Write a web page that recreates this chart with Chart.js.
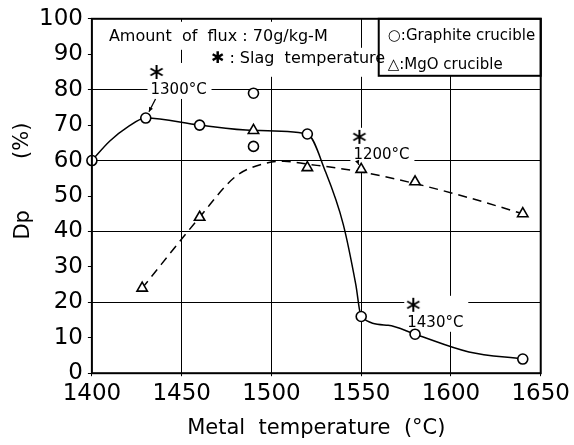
<!DOCTYPE html>
<html>
<head>
<meta charset="utf-8">
<script src="https://cdn.jsdelivr.net/npm/chart.js@4/dist/chart.umd.min.js"></script>
<style>
  body { margin: 0; background: #fff; }
  canvas { display: block; }
</style>
</head>
<body>
<canvas id="myChart" width="574" height="445"></canvas>
<script>
// measured points
var graphiteX = [1400, 1430, 1460, 1490, 1490, 1520, 1550, 1580, 1640];
var graphiteY = [60, 72, 70, 79, 64, 67.5, 16, 11, 4];
var mgoX = [1428, 1460, 1490, 1520, 1550, 1580, 1640];
var mgoY = [24, 44, 68.5, 58, 57.5, 54, 45];

// hand-drawn fitted curves
var graphiteCurveX = [1400, 1410, 1420, 1430, 1460, 1490, 1520, 1530, 1540, 1547, 1550, 1565, 1580, 1610, 1640];
var graphiteCurveY = [60, 65.5, 69.5, 72, 70, 68.5, 67.5, 57, 42, 25, 16, 13.5, 11, 6, 4];
var mgoCurveX = [1428, 1460, 1480, 1495, 1507, 1520, 1550, 1580, 1610, 1640];
var mgoCurveY = [24, 44, 55.5, 59, 59.8, 59, 56.8, 53.5, 49.5, 45];

// slag temperature marks
var slagX = [1436, 1549, 1579];
var slagY = [85, 66.7, 19.3];
var slagLabels = ["1300°C", "1200°C", "1430°C"];
var arrowX = [1430, 1550, null];
var arrowY = [72, 57, null];

var xTicks = [1400, 1450, 1500, 1550, 1600, 1650];
var yTicks = [0, 10, 20, 30, 40, 50, 60, 70, 80, 90, 100];

function pts(xs, ys) {
    return xs.map(function(x, i) { return { x: x, y: ys[i] }; });
}

// asterisk marker
var star = document.createElement("canvas");
star.width = 16; star.height = 16;
(function() {
    var c = star.getContext("2d");
    c.strokeStyle = "#000";
    c.lineWidth = 2;
    for (var k = 0; k < 3; k++) {
        var a = Math.PI / 2 + k * Math.PI / 3;
        c.beginPath();
        c.moveTo(8 + 7 * Math.cos(a), 8 + 7 * Math.sin(a));
        c.lineTo(8 - 7 * Math.cos(a), 8 - 7 * Math.sin(a));
        c.stroke();
    }
})();

var FONT = "'DejaVu Sans', sans-serif";

var decor = {
    id: "decor",
    beforeDatasetsDraw: function(chart) {
        var ctx = chart.ctx, a = chart.chartArea;
        var xs = chart.scales.x, ys = chart.scales.y;
        ctx.save();
        ctx.fillStyle = "#fff";
        // text blocks hide the grid behind them
        ctx.fillRect(a.left + 13, a.top + 3, 252, 28);
        ctx.fillRect(a.left + 114, a.top + 29, 175, 29);
        ctx.fillRect(a.right - 162, a.top, 162, 57);
        for (var i = 0; i < slagX.length; i++) {
            var px = xs.getPixelForValue(slagX[i]);
            var py = ys.getPixelForValue(slagY[i]);
            ctx.fillRect(px - 9, py - 9, 64, 36);
        }
        ctx.restore();
    },
    afterDraw: function(chart) {
        var ctx = chart.ctx, a = chart.chartArea;
        var xs = chart.scales.x, ys = chart.scales.y;
        ctx.save();
        ctx.fillStyle = "#000";
        ctx.strokeStyle = "#000";

        // frame
        ctx.lineWidth = 2;
        ctx.strokeRect(a.left, a.top, a.right - a.left, a.bottom - a.top);

        // legend box
        ctx.strokeRect(a.right - 162, a.top, 162, 57);
        ctx.font = "15px " + FONT;
        ctx.textBaseline = "middle";
        ctx.textAlign = "left";
        ctx.fillText("○:Graphite crucible", a.right - 153, a.top + 17);
        ctx.fillText("△:MgO crucible", a.right - 153, a.top + 46);

        // note text
        ctx.font = "16px " + FONT;
        ctx.fillText("Amount  of  flux : 70g/kg-M", a.left + 17, a.top + 18);
        ctx.fillText("✱ : Slag  temperature", a.left + 119, a.top + 40);

        // slag temperature labels and arrows
        ctx.font = "15px " + FONT;
        ctx.lineWidth = 1.3;
        for (var i = 0; i < slagX.length; i++) {
            var px = xs.getPixelForValue(slagX[i]);
            var py = ys.getPixelForValue(slagY[i]);
            ctx.fillText(slagLabels[i], px - 6, py + 18);
            if (arrowX[i] !== null) {
                var sx = px - 1, sy = py + 27;
                var tx = xs.getPixelForValue(arrowX[i]);
                var ty = ys.getPixelForValue(arrowY[i]);
                var ang = Math.atan2(ty - sy, tx - sx);
                var ex = tx - 7 * Math.cos(ang), ey = ty - 7 * Math.sin(ang);
                ctx.beginPath();
                ctx.moveTo(sx, sy);
                ctx.lineTo(ex, ey);
                ctx.stroke();
                ctx.beginPath();
                ctx.moveTo(ex, ey);
                ctx.lineTo(ex - 5 * Math.cos(ang - 0.45), ey - 5 * Math.sin(ang - 0.45));
                ctx.lineTo(ex - 5 * Math.cos(ang + 0.45), ey - 5 * Math.sin(ang + 0.45));
                ctx.closePath();
                ctx.fill();
            }
        }

        // y axis title, split as in the figure
        ctx.font = "21px " + FONT;
        ctx.textAlign = "center";
        ctx.save();
        ctx.translate(23, a.top + 122);
        ctx.rotate(-Math.PI / 2);
        ctx.fillText("(%)", 0, 0);
        ctx.restore();
        ctx.save();
        ctx.translate(24, a.top + 206);
        ctx.rotate(-Math.PI / 2);
        ctx.fillText("Dp", 0, 0);
        ctx.restore();
        ctx.restore();
    }
};

document.addEventListener("DOMContentLoaded", function() {
    var ctx = document.getElementById("myChart").getContext("2d");
    var data = {
        datasets: [{
            label: "Graphite crucible",
            data: pts(graphiteX, graphiteY),
            pointStyle: "circle",
            pointRadius: 5,
            pointBorderWidth: 1.6,
            pointBackgroundColor: "#fff",
            pointBorderColor: "#000",
            clip: false,
            order: 0
        }, {
            label: "MgO crucible",
            data: pts(mgoX, mgoY),
            pointStyle: "triangle",
            pointRadius: 6,
            pointBorderWidth: 1.6,
            pointBackgroundColor: "#fff",
            pointBorderColor: "#000",
            clip: false,
            order: 0
        }, {
            label: "Slag temperature",
            data: pts(slagX, slagY),
            pointStyle: star,
            order: 0
        }, {
            label: "Graphite curve",
            data: pts(graphiteCurveX, graphiteCurveY),
            showLine: true,
            pointRadius: 0,
            borderColor: "#000",
            borderWidth: 1.5,
            cubicInterpolationMode: "monotone",
            order: 1
        }, {
            label: "MgO curve",
            data: pts(mgoCurveX, mgoCurveY),
            showLine: true,
            pointRadius: 0,
            borderColor: "#000",
            borderWidth: 1.5,
            borderDash: [9, 6],
            cubicInterpolationMode: "monotone",
            order: 1
        }]
    };

    var myChart = new Chart(ctx, {
        type: "scatter",
        data: data,
        plugins: [decor],
        options: {
            responsive: false,
            animation: false,
            devicePixelRatio: 1,
            layout: { padding: { left: 34, top: 17, right: 32, bottom: 2 } },
            plugins: { legend: { display: false }, tooltip: { enabled: false } },
            scales: {
                x: {
                    type: "linear",
                    min: 1400, max: 1650,
                    afterBuildTicks: function(s) { s.ticks = xTicks.map(function(v) { return { value: v }; }); },
                    ticks: {
                        color: "#000", font: { family: FONT, size: 23 }, padding: 4, maxRotation: 0,
                        callback: function(v) { return String(v); }
                    },
                    grid: {
                        color: function(c) { return (c.tick && c.tick.value > 1400 && c.tick.value < 1650) ? "#000" : "rgba(0,0,0,0)"; },
                        lineWidth: 1,
                        tickLength: 3,
                        tickColor: "#000"
                    },
                    border: { display: false },
                    title: {
                        display: true,
                        text: "Metal  temperature  (°C)",
                        color: "#000",
                        font: { family: FONT, size: 21 },
                        padding: { top: 4, bottom: 2 }
                    }
                },
                y: {
                    min: 0, max: 100,
                    afterBuildTicks: function(s) { s.ticks = yTicks.map(function(v) { return { value: v }; }); },
                    ticks: { color: "#000", font: { family: FONT, size: 23 }, padding: 5 },
                    grid: {
                        color: function(c) { var v = c.tick && c.tick.value; return (v > 0 && v < 100 && v % 20 === 0) ? "#000" : "rgba(0,0,0,0)"; },
                        lineWidth: 1,
                        tickLength: 4,
                        tickColor: "#000"
                    },
                    border: { display: false }
                }
            }
        }
    });
});
</script>
</body>
</html>
